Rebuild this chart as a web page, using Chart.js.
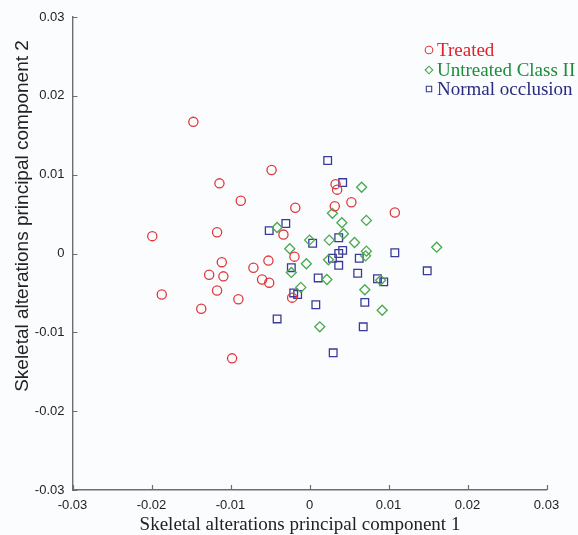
<!DOCTYPE html>
<html>
<head>
<meta charset="utf-8">
<script src="https://cdn.jsdelivr.net/npm/chart.js@4/dist/chart.umd.min.js"></script>
<style>
  html, body { margin: 0; padding: 0; background: #fafcfd; }
  #wrap { width: 578px; height: 535px; position: relative; }
</style>
</head>
<body>
<div id="wrap"><canvas id="c" width="578" height="535"></canvas></div>
<script>
// ---- data ----
const seriesNames = ["Treated", "Untreated Class II", "Normal occlusion"];
const xTickValues = [-0.03, -0.02, -0.01, 0, 0.01, 0.02, 0.03];
const yTickValues = [-0.03, -0.02, -0.01, 0, 0.01, 0.02, 0.03];
const xTitle = "Skeletal alterations principal component 1";
const yTitle = "Skeletal alterations principal component 2";

const treatedX = [-0.0147, -0.0048, -0.0114, -0.0087, -0.0018, -0.0199, -0.0117, -0.0033, -0.0019,
  -0.0111, -0.0127, -0.0109, -0.0071, -0.0052, -0.0060, -0.0051, -0.0187, -0.0117, -0.0090,
  -0.0137, -0.0022, -0.0098, 0.0033, 0.0035, 0.0053, 0.0032, 0.0108];
const treatedY = [0.0167, 0.0106, 0.0089, 0.0067, 0.0058, 0.0022, 0.0027, 0.0024, -0.0004,
  -0.0011, -0.0027, -0.0029, -0.0018, -0.0009, -0.0033, -0.0037, -0.0052, -0.0047, -0.0058,
  -0.0070, -0.0056, -0.0133, 0.0088, 0.0081, 0.0065, 0.0060, 0.0052];

const untreatedX = [-0.0041, -0.0025, -0.0023, -0.0011, 0.0000, 0.0025, 0.0057, 0.0066, 0.0029,
  0.0041, 0.0072, 0.0043, 0.0072, 0.0071, 0.0024, 0.0161, -0.0004, 0.0022, 0.0090, 0.0070,
  0.0092, 0.0013];
const untreatedY = [0.0033, 0.0006, -0.0024, -0.0043, 0.0017, 0.0017, 0.0014, 0.0084, 0.0051,
  0.0039, 0.0042, 0.0025, 0.0003, -0.0003, -0.0008, 0.0008, -0.0013, -0.0033, -0.0034, -0.0046,
  -0.0072, -0.0093];

const normalX = [0.0023, 0.0042, -0.0051, -0.0030, 0.0004, 0.0037, 0.0042, 0.0037, 0.0029, 0.0037,
  0.0063, 0.0108, -0.0023, 0.0149, 0.0061, 0.0011, 0.0086, 0.0094, -0.0020, -0.0015, 0.0008,
  0.0070, -0.0041, 0.0068, 0.0030];
const normalY = [0.0118, 0.0090, 0.0029, 0.0038, 0.0013, 0.0020, 0.0004, 0.0000, -0.0006, -0.0015,
  -0.0006, 0.0001, -0.0018, -0.0022, -0.0025, -0.0031, -0.0032, -0.0036, -0.0050, -0.0052, -0.0065,
  -0.0062, -0.0083, -0.0093, -0.0126];

// ---- styles ----
const markerColors = ["#e0383c", "#4aa84e", "#3a3a98"];
const textColors = ["#e0202a", "#1e8c3a", "#2a2a80"];
const pointStyles = ["circle", "rectRot", "rect"];
const pointRadii = [4.6, 5, 5.4];

function pts(xs, ys) { return xs.map((x, i) => ({ x: x, y: ys[i] })); }

const datasets = [
  { xs: treatedX, ys: treatedY },
  { xs: untreatedX, ys: untreatedY },
  { xs: normalX, ys: normalY }
].map((d, i) => ({
  label: seriesNames[i],
  data: pts(d.xs, d.ys),
  pointStyle: pointStyles[i],
  pointRadius: pointRadii[i],
  pointHoverRadius: pointRadii[i],
  borderColor: markerColors[i],
  backgroundColor: "rgba(0,0,0,0)",
  pointBorderWidth: 1.3,
  showLine: false
}));

const PLOT_LEFT = 72.5, PLOT_RIGHT = 546.5, PLOT_TOP = 17, PLOT_BOTTOM = 490;

const decor = {
  id: "decor",
  afterDraw(chart) {
    const ctx = chart.ctx;
    const xs = chart.scales.x, ys = chart.scales.y;
    ctx.save();
    // inward ticks
    ctx.strokeStyle = "#6e6e6e";
    ctx.lineWidth = 1.2;
    ctx.beginPath();
    xTickValues.forEach(v => {
      const px = Math.round(xs.getPixelForValue(v)) + 0.5;
      ctx.moveTo(px, ys.bottom);
      ctx.lineTo(px, ys.bottom - 5);
    });
    yTickValues.forEach(v => {
      const py = Math.round(ys.getPixelForValue(v)) + 0.5;
      ctx.moveTo(xs.left, py);
      ctx.lineTo(xs.left + 5, py);
    });
    ctx.stroke();

    // axis titles
    ctx.fillStyle = "#222";
    ctx.font = "19px 'Liberation Serif', 'Times New Roman', serif";
    ctx.textAlign = "center";
    ctx.textBaseline = "middle";
    ctx.fillText(xTitle, 300, 525);

    ctx.save();
    ctx.translate(23, 216);
    ctx.rotate(-Math.PI / 2);
    ctx.font = "19px 'Liberation Sans', Arial, sans-serif";
    ctx.fillText(yTitle, 0, 0);
    ctx.restore();

    // legend
    const legendY = [50, 70, 89];
    chart.data.datasets.forEach((ds, i) => {
      ctx.strokeStyle = markerColors[i];
      ctx.fillStyle = "rgba(0,0,0,0)";
      ctx.lineWidth = 1.1;
      Chart.helpers.drawPoint(ctx, { pointStyle: pointStyles[i], radius: 3.8, rotation: 0, borderWidth: 1.1 }, 429, legendY[i]);
      ctx.fillStyle = textColors[i];
      ctx.font = "19px 'Liberation Serif', 'Times New Roman', serif";
      ctx.textAlign = "left";
      ctx.textBaseline = "middle";
      ctx.fillText(ds.label, 437, legendY[i] + 1);
    });
    ctx.restore();
  }
};

new Chart(document.getElementById("c"), {
  type: "scatter",
  data: { datasets: datasets },
  options: {
    responsive: false,
    animation: false,
    layout: { padding: { left: 0, right: 578 - PLOT_RIGHT, top: PLOT_TOP, bottom: 0 } },
    plugins: { legend: { display: false }, tooltip: { enabled: false } },
    scales: {
      x: {
        type: "linear",
        min: -0.03, max: 0.03,
        afterBuildTicks: s => { s.ticks = xTickValues.map(v => ({ value: v })); },
        afterFit: s => { s.height = 535 - PLOT_BOTTOM; },
        grid: { display: false, drawTicks: false },
        border: { display: true, color: "#6e6e6e", width: 1.4 },
        ticks: {
          color: "#222",
          font: { family: "'Liberation Sans', Arial, sans-serif", size: 13 },
          padding: 8,
          maxRotation: 0,
          callback: v => (v === 0 ? "0" : (+v.toFixed(2)).toString())
        }
      },
      y: {
        type: "linear",
        min: -0.03, max: 0.03,
        afterBuildTicks: s => { s.ticks = yTickValues.map(v => ({ value: v })); },
        afterFit: s => { s.width = PLOT_LEFT; },
        grid: { display: false, drawTicks: false },
        border: { display: true, color: "#6e6e6e", width: 1.4 },
        ticks: {
          color: "#222",
          font: { family: "'Liberation Sans', Arial, sans-serif", size: 13 },
          padding: 8,
          callback: v => (v === 0 ? "0" : (+v.toFixed(2)).toString())
        }
      }
    }
  },
  plugins: [decor]
});
</script>
</body>
</html>
